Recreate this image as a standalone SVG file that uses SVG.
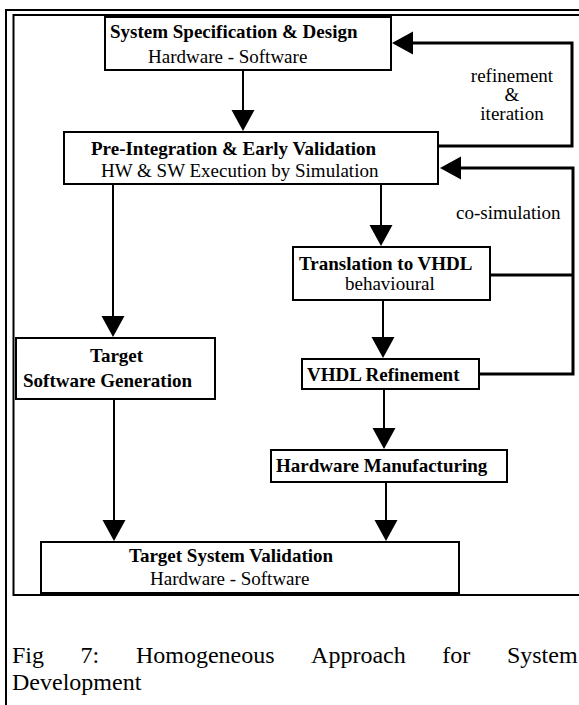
<svg xmlns="http://www.w3.org/2000/svg" width="579" height="705" viewBox="0 0 579 705">
<style>
  text { font-family: "Liberation Serif", "Times New Roman", serif; font-size: 19px; fill: #000; }
  .b { font-weight: bold; }
  .cap { font-size: 24px; }
  .box { fill: #fff; stroke: #000; stroke-width: 2; }
  .frame { fill: none; stroke: #000; stroke-width: 2; }
  .ln { fill: none; stroke: #000; stroke-width: 2; }
  .fb { fill: none; stroke: #000; stroke-width: 3; }
</style>
<defs>
  <marker id="ah" markerUnits="userSpaceOnUse" markerWidth="24" markerHeight="24" refX="0" refY="11.5" orient="auto">
    <path d="M0,0 L21,11.5 L0,23 z" fill="#000"/>
  </marker>
</defs>
<rect x="0" y="0" width="579" height="705" fill="#fff"/>
<g id="frames">
  <rect class="frame" x="6" y="10" width="600" height="720"/>
  <rect class="frame" x="13.5" y="15" width="600" height="580"/>
</g>
<g id="connectors">
  <line class="ln" x1="243" y1="70" x2="243" y2="110" marker-end="url(#ah)"/>
  <line class="ln" x1="113" y1="184" x2="113" y2="316" marker-end="url(#ah)"/>
  <line class="ln" x1="381" y1="184" x2="381" y2="225" marker-end="url(#ah)"/>
  <line class="ln" x1="114" y1="399" x2="114" y2="520" marker-end="url(#ah)"/>
  <line class="ln" x1="383" y1="300" x2="383" y2="337" marker-end="url(#ah)"/>
  <line class="ln" x1="384" y1="389" x2="384" y2="428" marker-end="url(#ah)"/>
  <line class="ln" x1="386" y1="482" x2="386" y2="520" marker-end="url(#ah)"/>
  <polyline class="fb" points="438,146 572,146 572,43 413,43" marker-end="url(#ah)"/>
  <polyline class="fb" points="490,275 573,275"/>
  <polyline class="fb" points="479,374 573,374 573,168 461,168" marker-end="url(#ah)"/>
</g>
<g id="spec">
  <rect class="box" x="105" y="17" width="286" height="53"/>
  <text class="b" x="110" y="38">System Specification &amp; Design</text>
  <text x="148" y="63">Hardware - Software</text>
</g>
<g id="preint">
  <rect class="box" x="64" y="132" width="374" height="52"/>
  <text class="b" x="91" y="155">Pre-Integration &amp; Early Validation</text>
  <text x="101" y="177">HW &amp; SW Execution by Simulation</text>
</g>
<g id="translation">
  <rect class="box" x="293" y="247" width="197" height="53"/>
  <text class="b" x="299" y="270">Translation to VHDL</text>
  <text x="345" y="290">behavioural</text>
</g>
<g id="swgen">
  <rect class="box" x="16" y="338" width="199" height="61"/>
  <text class="b" x="90" y="362">Target</text>
  <text class="b" x="23" y="387">Software Generation</text>
</g>
<g id="vhdlref">
  <rect class="box" x="302" y="359" width="177" height="30"/>
  <text class="b" x="307" y="381">VHDL Refinement</text>
</g>
<g id="hwmfg">
  <rect class="box" x="271" y="450" width="236" height="32"/>
  <text class="b" x="276" y="472">Hardware Manufacturing</text>
</g>
<g id="tsv">
  <rect class="box" x="41" y="542" width="418" height="51"/>
  <text class="b" x="129" y="562">Target System Validation</text>
  <text x="150" y="585">Hardware - Software</text>
</g>
<g id="labels">
  <text x="512" y="82" text-anchor="middle">refinement</text>
  <text x="512" y="101" text-anchor="middle">&amp;</text>
  <text x="512" y="120" text-anchor="middle">iteration</text>
  <text x="456" y="219">co-simulation</text>
</g>
<g id="caption">
  <text class="cap" y="663"><tspan x="12">Fig</tspan><tspan x="80.6">7:</tspan><tspan x="135.9">Homogeneous</tspan><tspan x="311.1">Approach</tspan><tspan x="442.3">for</tspan><tspan x="506.9">System</tspan></text>
  <text class="cap" x="12" y="690">Development</text>
</g>
</svg>
